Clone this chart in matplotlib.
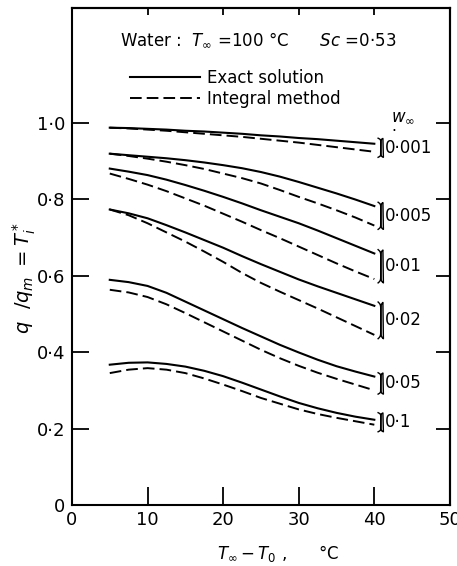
import matplotlib
matplotlib.use('Agg')
import matplotlib.pyplot as plt
import numpy as np

# T_inf - T_0 (degC)
dT = [5, 7.5, 10, 12.5, 15, 17.5, 20, 22.5, 25, 27.5, 30, 32.5, 35, 37.5, 40]

# w_inf values and curves
w_labels = ['0·001', '0·005', '0·01', '0·02', '0·05', '0·1']
exact = [
    [0.987, 0.986, 0.984, 0.982, 0.979, 0.977, 0.974, 0.971, 0.967, 0.964, 0.960, 0.957, 0.953, 0.949, 0.945],
    [0.919, 0.915, 0.911, 0.907, 0.902, 0.896, 0.889, 0.881, 0.871, 0.859, 0.845, 0.830, 0.815, 0.799, 0.782],
    [0.880, 0.872, 0.863, 0.851, 0.837, 0.822, 0.806, 0.789, 0.771, 0.754, 0.737, 0.718, 0.698, 0.678, 0.658],
    [0.773, 0.763, 0.750, 0.732, 0.713, 0.693, 0.673, 0.651, 0.630, 0.610, 0.590, 0.572, 0.555, 0.538, 0.521],
    [0.589, 0.583, 0.573, 0.555, 0.532, 0.509, 0.486, 0.463, 0.441, 0.419, 0.399, 0.380, 0.363, 0.349, 0.336],
    [0.367, 0.372, 0.373, 0.369, 0.362, 0.351, 0.337, 0.320, 0.302, 0.284, 0.267, 0.253, 0.241, 0.231, 0.223],
]
integral = [
    [0.987, 0.985, 0.982, 0.979, 0.975, 0.971, 0.967, 0.963, 0.958, 0.953, 0.948, 0.942, 0.936, 0.930, 0.924],
    [0.919, 0.913, 0.906, 0.898, 0.889, 0.879, 0.867, 0.855, 0.841, 0.824, 0.806, 0.789, 0.771, 0.752, 0.731],
    [0.867, 0.853, 0.838, 0.821, 0.802, 0.783, 0.762, 0.741, 0.719, 0.698, 0.676, 0.654, 0.632, 0.611, 0.591],
    [0.773, 0.758, 0.737, 0.713, 0.689, 0.663, 0.636, 0.607, 0.581, 0.558, 0.536, 0.514, 0.491, 0.468, 0.445],
    [0.563, 0.556, 0.544, 0.525, 0.502, 0.478, 0.454, 0.430, 0.406, 0.384, 0.364, 0.346, 0.330, 0.315, 0.300],
    [0.345, 0.354, 0.358, 0.354, 0.345, 0.331, 0.315, 0.298, 0.280, 0.265, 0.250, 0.238, 0.228, 0.219, 0.210],
]

xticks = [0, 10, 20, 30, 40, 50]
yticks = [0, 0.2, 0.4, 0.6, 0.8, 1.0]
ytick_labels = ['0', '0·2', '0·4', '0·6', '0·8', '1·0']


def brace(ax, x0, y_a, y_b, w=0.7, beta=60.0):
    # vertical curly brace, tip pointing right
    lo, hi = min(y_a, y_b), max(y_a, y_b)
    half = max((hi - lo) / 2 + 0.01, 0.025)
    mid = (hi + lo) / 2
    s = np.linspace(0, 0.5, 80)
    f = 1 / (1 + np.exp(-beta * s)) + 1 / (1 + np.exp(-beta * (s - 0.5))) - 0.5
    xs = np.concatenate([x0 + w * f, x0 + w * f[-2::-1]])
    ys = np.concatenate([mid + half - 4 * half * s, mid - half + 4 * half * s[-2::-1]])
    ax.plot(xs, ys, color='black', lw=1.0)
    return mid


plt.rcParams['mathtext.fontset'] = 'dejavusans'

fig = plt.figure(figsize=(4.57, 5.66), dpi=100)
ax = fig.add_axes([0.1575, 0.1078, 0.827, 0.878])

for i in range(len(w_labels)):
    ln1, = ax.plot(dT, exact[i], color='black', lw=1.5)
    ln2, = ax.plot(dT, integral[i], color='black', lw=1.4, linestyle=(0, (6, 2.6)))
    if i == 0:
        ln1.set_label('Exact solution')
        ln2.set_label('Integral method')
    mid = brace(ax, 40.5, exact[i][-1], integral[i][-1])
    ax.text(41.4, mid, w_labels[i], fontsize=12, ha='left', va='center')

ax.text(42.2, 1.018, r'$w_\infty$', fontsize=12, ha='left', va='center')
ax.text(42.3, 0.978, '·', fontsize=11, ha='left', va='center')

ax.text(0.127, 0.936, r'Water :  $T_\infty$ =100 °C      $Sc$ =0·53',
        transform=ax.transAxes, fontsize=12, ha='left', va='center')

ax.legend(loc='upper left', bbox_to_anchor=(0.153, 0.877), frameon=False,
          fontsize=12, handlelength=4.2, handletextpad=0.45, labelspacing=0.15,
          borderpad=0, borderaxespad=0)

ax.set_xlim(0, 50)
ax.set_ylim(0, 1.3)
ax.set_xticks(xticks)
ax.set_xticklabels([str(t) for t in xticks])
ax.set_yticks(yticks)
ax.set_yticklabels(ytick_labels)
ax.tick_params(axis='x', direction='in', length=13, width=1.3, labelsize=13, pad=4)
ax.tick_params(axis='y', direction='in', length=12, width=1.3, labelsize=13, pad=5)

top = ax.secondary_xaxis('top')
top.set_xticks([10, 20, 30, 40])
top.tick_params(direction='in', length=5, width=1.3, labeltop=False)
top.spines['top'].set_linewidth(1.5)
right = ax.secondary_yaxis('right')
right.set_yticks([0.2, 0.4, 0.6, 0.8, 1.0])
right.tick_params(direction='in', length=10, width=1.3, labelright=False)
right.spines['right'].set_linewidth(1.5)

for s in ax.spines.values():
    s.set_linewidth(1.5)

ax.set_xlabel(r'$T_\infty - T_0$ ,      °C', fontsize=12, va='center')
ax.xaxis.set_label_coords(0.545, -0.097)
ax.set_ylabel(r'$q\ \ /q_m\ =T_i^*$', fontsize=14, va='center')
ax.yaxis.set_label_coords(-0.125, 0.457)

fig.savefig('out.png', dpi=100)
